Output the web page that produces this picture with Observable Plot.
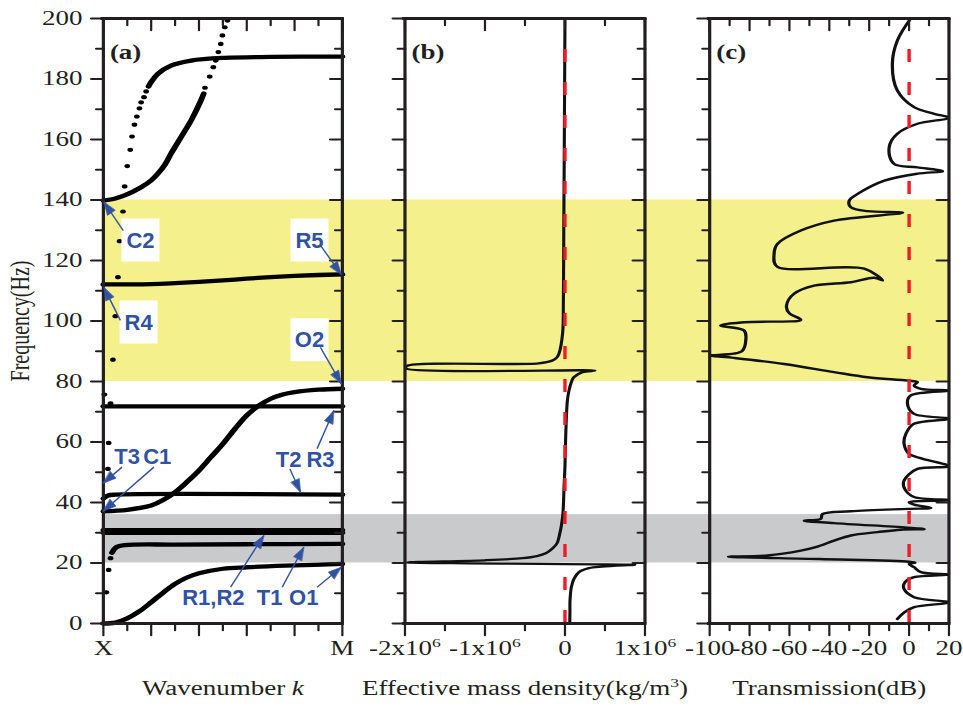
<!DOCTYPE html>
<html>
<head>
<meta charset="utf-8">
<script src="https://cdn.jsdelivr.net/npm/d3@7"></script>
<script src="https://cdn.jsdelivr.net/npm/@observablehq/plot@0.6"></script>
<style>
html,body{margin:0;padding:0;background:#fff;}
#chart{position:relative;width:963px;height:710px;overflow:hidden;background:#fff;}
#chart svg{position:absolute;left:0;top:0;}
</style>
</head>
<body>
<div id="chart"></div>
<script>
// ================= DATA =================
// shared frequency axis
const freqMajor = [0, 20, 40, 60, 80, 100, 120, 140, 160, 180, 200];
const freqMinor = [10, 30, 50, 70, 90, 110, 130, 150, 170, 190];
const freqLabels = ["0", "20", "40", "60", "80", "100", "120", "140", "160", "180", "200"];

// shaded frequency bands
const bandLow = [80, 20];
const bandHigh = [140, 36];
const bandColor = ["#F4F08C", "#C9CACC"];

// panel (a) : band structure, wavenumber k from X (0) to M (1)
const kMajor = [0, 0.2, 0.4, 0.6, 0.8, 1];
const kMinor = [0.1, 0.3, 0.5, 0.7, 0.9];
const kLabelValues = [0, 1];
const kLabelText = ["X", "M"];

const branchO1 = [[0,0],[0.05,0.3],[0.1,1.7],[0.15,4],[0.2,7],[0.25,10.2],[0.3,13.1],[0.35,15.2],[0.4,16.6],[0.5,18.1],[0.6,18.6],[0.8,19.2],[1,19.7]];
const branchT1 = [[0.036,23.4],[0.054,25.2],[0.09,25.9],[0.3,26.1],[0.6,26.2],[1,26.3]];
const branchR1 = [[0,30.0],[1,30.0]];
const branchR2 = [[0,30.9],[1,30.9]];
const branchC1 = [[0,37.1],[0.1,37.6],[0.2,39],[0.25,40.8],[0.3,43.4],[0.35,46.8],[0.4,50.6],[0.45,55],[0.5,59.4],[0.55,64.3],[0.6,68.8],[0.65,72],[0.7,74.3],[0.75,75.7],[0.8,76.5],[0.9,77.3],[1,77.6]];
const branchT2 = [[0,41.3],[0.02,42.3],[0.05,42.6],[1,42.6]];
const branchR3 = [[0,71.8],[1,71.8]];
const branchR4 = [[0,112.1],[0.2,112.2],[0.3,112.5],[0.4,112.9],[0.5,113.4],[0.6,114],[0.7,114.5],[0.8,114.9],[0.9,115.2],[1,115.4]];
const branchC2 = [[0,139.8],[0.05,140.5],[0.089,141.5],[0.158,144.2],[0.2,146.5],[0.228,148.7],[0.26,152],[0.283,155.3],[0.325,160.8],[0.367,166.3],[0.408,172.9],[0.42,175.2]];
const branchTop = [[0.189,177.5],[0.2,179],[0.228,181.7],[0.283,184.4],[0.367,186.1],[0.506,187],[0.7,187.3],[1,187.4]];
const sparseDots = [[0.0125,10.3],[0.022,17.7],[0.03,21.6],[0.019,51.1],[0.022,59.7],[0.03,72.8],[0.004,75.7],[0.04,87.2],[0.05,101.6],[0.061,114.5],[0.068,126.4],[0.082,136.2],[0.089,144.5],[0.1,151.2],[0.1125,156.6],[0.12,161],[0.13,164.9],[0.14,167.6],[0.151,170.3],[0.158,172.3],[0.17,174],[0.179,175.9],[0.425,177.1],[0.445,180.8],[0.46,183.9],[0.47,186.1],[0.481,188.9],[0.491,191.6],[0.498,194.4],[0.508,197.1],[0.519,199.3]];

// annotations of panel (a)
const annText = ["C2","R5","R4","O2","T3","C1","T2","R3","R1,R2","T1","O1"];
const annK    = [0.156,0.863,0.148,0.863,0.1,0.226,0.776,0.909,0.461,0.696,0.839];
const annF    = [126.6,126.6,99.5,93.6,55,55,54.1,54.1,8.4,8.4,8.4];
const annBoxed = [true,true,true,true,false,false,false,false,false,false,false];
const arrowTailK = [0.084,0.909,0.072,0.909,0.079,0.212,0.781,0.895,0.533,0.749,0.895];
const arrowTailF = [129.9,125,100.2,91.3,51.7,51.7,51.1,57.8,12,12,12];
const arrowTipK  = [0.003,0.996,0.003,0.996,0.0,0.0,0.826,0.965,0.672,0.839,0.996];
const arrowTipF  = [139.3,115.4,111.1,79.3,46.4,37.1,43.4,70.4,29.1,25.2,18.6];

// panel (b) : effective mass density (units of 1x10^6 kg/m^3)
const rhoMajor = [-2, -1, 0, 1];
const rhoMinor = [-1.5, -0.5, 0.5];
const rhoLabelText = ["-2x10^6", "-1x10^6", "0", "1x10^6"];
const densityCurve = [[0.06,0.4],[0.062,4],[0.063,7.6],[0.08,12],[0.113,14.8],[0.175,17],[0.3,18.3],[0.467,18.8],[0.8,19.3],[0.875,19.4],[-1.97,20.2],[-1.0,20.9],[-0.53,21.6],[-0.35,22.3],[-0.24,23.2],[-0.16,24.7],[-0.1,26.5],[-0.075,28.5],[-0.03,35.1],[-0.01,46.2],[0.0,52],[0.01,62.7],[0.03,73.7],[0.05,77],[0.08,79.8],[0.11,81.4],[0.22,83.1],[0.375,83.6],[-1.99,84.3],[-1.97,85.2],[-0.33,86.0],[-0.16,86.9],[-0.1,88],[-0.075,89.2],[-0.03,95.8],[-0.02,106.8],[-0.015,130],[-0.01,150.8],[-0.005,175],[0,199.5]];
const densityZero = [0];

// panel (c) : transmission (dB)
const dbMajor = [-100, -80, -60, -40, -20, 0, 20];
const dbMinor = [-90, -70, -50, -30, -10, 10];
const dbLabelText = ["-100", "-80", "-60", "-40", "-20", "0", "20"];
const transmissionCurve = [[-5.9,1.5],[-2.4,3.7],[2.5,5.4],[20,7.0],[2.5,8.7],[-2.6,11.5],[-2,13.7],[2.5,15.3],[20,16.2],[5.9,17],[2.5,18.6],[0,19.7],[3,20.1],[0,20.4],[-45,21.3],[-90.6,22.1],[-71,22.5],[-54.3,24.1],[-45.9,25.4],[-37.6,27.4],[-29.2,29.1],[-15.8,30.2],[-4.1,31],[7.6,31.2],[-37.6,33.2],[-52.6,34.0],[-44.3,34.6],[-43.4,36.2],[-29.2,37.1],[-0.8,37.9],[11,38.2],[2.5,39.3],[0,40.1],[20,40.8],[2.5,41.8],[-2.2,44.5],[-2.5,47.3],[4.2,51.1],[20,52],[0,56.1],[-2.5,59.4],[-1.6,62.7],[2.5,66],[20,67.7],[2.5,69.3],[-0.8,72.6],[0.9,75.4],[20,77],[5.9,77.6],[2.5,78.7],[4.2,79.8],[-0.8,80.3],[-20.8,81.4],[-37.6,83.1],[-62.7,85.8],[-87.8,87.8],[-99.9,88.6],[-87.8,89.2],[-83.6,90.2],[-81.9,93.6],[-82.8,96.9],[-94.5,98.5],[-82.8,99.6],[-54.3,100.4],[-60,102.5],[-61.5,105],[-57.7,109],[-47.6,111.7],[-29.2,112.8],[-17.5,114.3],[-13.3,113.4],[-22.5,117.3],[-66,117.9],[-67.7,122.2],[-66,125.5],[-54.3,129.9],[-37.6,133.2],[-3.2,135.8],[-20.8,136.3],[-29.2,137.6],[-30,139.8],[-25.8,142],[-12.4,146.4],[4.2,148.7],[16.8,149.5],[4.2,150.8],[-7.5,151.9],[-10,157.4],[-5.9,161.9],[4.2,165.2],[20,167.2],[12.6,168.5],[2.5,170.7],[-5.9,176.2],[-8.4,185],[-5.9,192.7],[0.8,200]];
const transmissionZero = [0];

// ================= LAYOUT / STYLE =================
const W = 963, H = 710, VW = 713, S = W / VW;   // figure is horizontally stretched
const TOP = 18, BOTTOM = 623;
const FA = [102.7, 341.7], FB = [404.3, 644.3], FC = [709, 948.3];
const ink = "#231f20", red = "#EE1D25", blue = "#3152A3";
const serif = "'Liberation Serif','Times New Roman',serif";
const sans = "'Liberation Sans',Arial,sans-serif";
const FS = 20;

const tickShape = {draw(ctx, l) { ctx.moveTo(0, 0); ctx.lineTo(0, -l); }};
const headShape = {draw(ctx, l, r) { ctx.moveTo(0, -l); ctx.lineTo(-r, 0); ctx.lineTo(r, 0); ctx.closePath(); }};

function tickVec(values, ch, side, len) {
  const rotate = (side === "left" || side === "right") ? -90 : 180;
  const sw = ch === "y" ? 2.2 : 2.2 / S;
  return Plot.vector(values, {[ch]: d => d, frameAnchor: side, length: len, rotate, anchor: "start",
    shape: tickShape, stroke: ink, strokeWidth: sw});
}

function frameMarks(domain, xMajor, xMinor, rightMinor = true) {
  return [
    Plot.ruleY([0, 200], {stroke: ink, strokeWidth: 3.2, strokeLinecap: "square"}),
    Plot.ruleX(domain, {stroke: ink, strokeWidth: 3.2 / S}),
    tickVec(freqMajor, "y", "left", 12 / S),
    tickVec(freqMinor, "y", "left", 7 / S),
    tickVec(freqMajor, "y", "right", 12 / S),
    ...(rightMinor ? [tickVec(freqMinor, "y", "right", 7 / S)] : []),
    tickVec(xMajor, "x", "top", 12),
    tickVec(xMinor, "x", "top", 7),
    tickVec(xMajor, "x", "bottom", 12),
    tickVec(xMinor, "x", "bottom", 7)
  ];
}

function xLabels(values, texts) {
  return Plot.text(values.map((v, i) => ({v, t: texts[i]})), {x: "v", text: "t", frameAnchor: "bottom",
    dy: 17, lineAnchor: "top", textAnchor: "middle", fontSize: FS, fontFamily: serif, fill: ink});
}
function panelLetter(s) {
  return Plot.text([s], {text: d => d, frameAnchor: "top-left", dx: 6.5 / S, dy: 34.5, textAnchor: "start",
    lineAnchor: "middle", fontSize: FS, fontWeight: "bold", fontFamily: serif, fill: ink});
}
function title(s) {
  return Plot.text([s], {text: d => d, frameAnchor: "bottom", dy: 65, lineAnchor: "middle", textAnchor: "middle",
    fontSize: FS, fontFamily: serif, fill: ink});
}

function richText(svg) {
  const ns = "http://www.w3.org/2000/svg";
  svg.querySelectorAll("text").forEach(t => {
    const s = t.textContent;
    if (!/[\^*]/.test(s)) return;
    const parts = s.split(/(\*[^*]+\*|\^\S)/).filter(p => p !== "");
    t.textContent = "";
    let shifted = false;
    for (const p of parts) {
      const sp = document.createElementNS(ns, "tspan");
      if (p.startsWith("^")) {
        sp.textContent = p.slice(1); sp.setAttribute("font-size", "13"); sp.setAttribute("dy", "-8");
        shifted = true; t.append(sp); continue;
      }
      if (p.startsWith("*")) { sp.textContent = p.slice(1, -1); sp.setAttribute("font-style", "italic"); }
      else sp.textContent = p;
      if (shifted) { sp.setAttribute("dy", "8"); shifted = false; }
      t.append(sp);
    }
  });
}

function stretch(svg) {
  svg.setAttribute("width", W);
  svg.setAttribute("height", H);
  svg.setAttribute("viewBox", `0 0 ${VW} ${H}`);
  svg.setAttribute("preserveAspectRatio", "none");
  svg.style.width = W + "px"; svg.style.height = H + "px"; svg.style.maxWidth = "none";
  svg.style.background = "transparent"; svg.style.overflow = "visible";
  return svg;
}

function panel(frame, domain, marks) {
  const svg = Plot.plot({
    width: VW, height: H,
    marginLeft: frame[0] / S, marginRight: VW - frame[1] / S, marginTop: TOP, marginBottom: H - BOTTOM,
    x: {domain, axis: null}, y: {domain: [0, 200], axis: null},
    style: {background: "transparent", overflow: "visible"},
    marks
  });
  richText(svg);
  return stretch(svg);
}

const P = d => d[0], F = d => d[1];
const chart = document.getElementById("chart");

// background bands spanning all three panels
const bands = bandLow.map((lo, i) => ({lo, hi: bandHigh[i], c: bandColor[i]}));
const bg = Plot.plot({
  width: VW, height: H, marginLeft: FA[0] / S, marginRight: VW - FC[1] / S, marginTop: TOP, marginBottom: H - BOTTOM,
  y: {domain: [0, 200], axis: null},
  style: {background: "transparent"},
  marks: [Plot.rect(bands, {y1: "lo", y2: "hi", fill: "c"})]
});
chart.append(stretch(bg));

// panel (a)
const lineOpts = {x: P, y: F, curve: "catmull-rom", stroke: "#000", strokeWidth: 4.3};
chart.append(panel(FA, [0, 1], [
  ...[branchO1, branchT1, branchR1, branchR2, branchC1, branchT2, branchR3, branchR4, branchC2, branchTop]
      .map(b => Plot.line(b, lineOpts)),
  Plot.dot(sparseDots, {x: P, y: F, r: 2.1, fill: "#000", stroke: null}),
  ...frameMarks([0, 1], kMajor, kMinor),
  Plot.text(freqMajor.map((v, i) => ({v, t: freqLabels[i]})), {y: "v", text: "t", frameAnchor: "left",
    dx: -21 / S, textAnchor: "end", lineAnchor: "middle", fontSize: FS, fontFamily: serif, fill: ink}),
  Plot.text(["Frequency(Hz)"], {text: d => d, frameAnchor: "left", rotate: -90, dx: (20 - FA[0]) / S,
    textAnchor: "middle", lineAnchor: "middle", fontSize: FS, fontFamily: serif, fill: ink}),
  xLabels(kLabelValues, kLabelText),
  panelLetter("(a)"),
  title("Wavenumber *k*")
]));

// panel (b)
chart.append(panel(FB, [-2, 1], [
  Plot.line(densityCurve, {x: P, y: F, curve: "catmull-rom", stroke: "#111", strokeWidth: 2.3, clip: true}),
  Plot.ruleX(densityZero, {y1: 0, y2: 191, stroke: red, strokeWidth: 3.4 / S, strokeDasharray: "13,20"}),
  ...frameMarks([-2, 1], rhoMajor, rhoMinor),
  xLabels(rhoMajor, rhoLabelText),
  panelLetter("(b)"),
  title("Effective mass density(kg/m^3)")
]));

// panel (c)
chart.append(panel(FC, [-100, 20], [
  Plot.line(transmissionCurve, {x: P, y: F, curve: "catmull-rom", stroke: "#111", strokeWidth: 2.4, clip: true}),
  Plot.ruleX(transmissionZero, {y1: 0, y2: 191, stroke: red, strokeWidth: 3.4 / S, strokeDasharray: "13,20"}),
  ...frameMarks([-100, 20], dbMajor, dbMinor, false),
  xLabels(dbMajor, dbLabelText),
  panelLetter("(c)"),
  title("Transmission(dB)")
]));

// annotation layer (not stretched)
const sx = Plot.scale({x: {domain: [0, 1], range: [FA[0], FA[1]]}});
const sy = Plot.scale({y: {domain: [0, 200], range: [BOTTOM, TOP]}});
const labelRows = annText.map((t, i) => ({t, k: annK[i], f: annF[i], boxed: annBoxed[i]}));
const arrowRows = arrowTailK.map((tk, i) => {
  const dx = sx.apply(arrowTipK[i]) - sx.apply(tk);
  const dy = sy.apply(arrowTipF[i]) - sy.apply(arrowTailF[i]);
  return {tk, tf: arrowTailF[i], hk: arrowTipK[i], hf: arrowTipF[i], angle: Math.atan2(dx, -dy) * 180 / Math.PI};
});
const boxSymbol = {draw(ctx) { ctx.rect(-19, -22, 38, 43); }};
const annot = Plot.plot({
  width: W, height: H, marginLeft: FA[0], marginRight: W - FA[1], marginTop: TOP, marginBottom: H - BOTTOM,
  x: {domain: [0, 1], axis: null}, y: {domain: [0, 200], axis: null},
  style: {background: "transparent", overflow: "visible"},
  marks: [
    Plot.dot(labelRows.filter(d => d.boxed), {x: "k", y: "f", symbol: boxSymbol, fill: "white", stroke: null}),
    Plot.link(arrowRows, {x1: "tk", y1: "tf", x2: "hk", y2: "hf", stroke: blue, strokeWidth: 1.4}),
    Plot.vector(arrowRows, {x: "hk", y: "hf", rotate: "angle", length: 13, r: 4.5, anchor: "end",
      shape: headShape, fill: blue, stroke: blue, strokeWidth: 0.6}),
    Plot.text(labelRows, {x: "k", y: "f", text: "t", fill: blue, fontSize: 22, fontWeight: "bold",
      fontFamily: sans, lineAnchor: "middle"})
  ]
});
annot.style.background = "transparent";
chart.append(annot);
</script>
</body>
</html>
